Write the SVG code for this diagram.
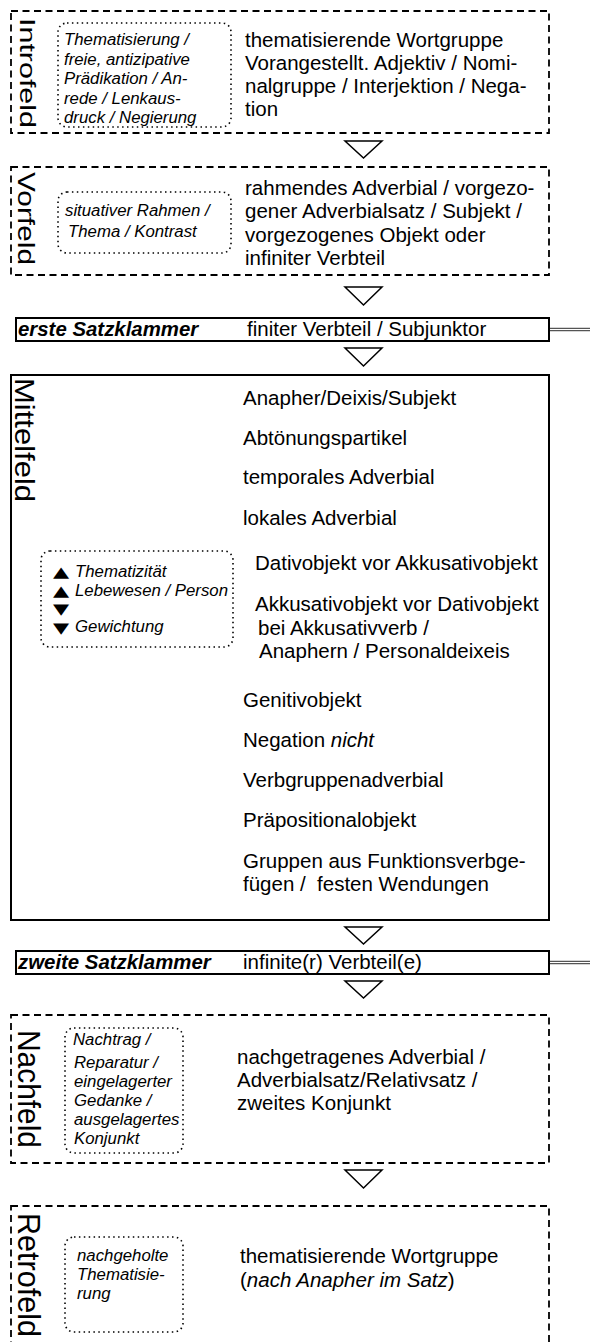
<svg xmlns="http://www.w3.org/2000/svg" width="590" height="1342" viewBox="0 0 590 1342">
<style>
text{font-family:"Liberation Sans",Arial,Helvetica,sans-serif;fill:#000}
.t{font-size:20.5px}
.i{font-size:16.8px;font-style:italic}
.bi{font-size:20.4px;font-style:italic;font-weight:bold}
.sym{font-family:"DejaVu Sans",sans-serif;font-size:15px}
.dash{fill:none;stroke:#000;stroke-width:1.8;stroke-dasharray:7 4.5}
.dot{fill:none;stroke:#000;stroke-width:1.6;stroke-dasharray:1.5 3.4}
.solid{fill:#fff;stroke:#000;stroke-width:2}
.tri{fill:#fff;stroke:#000;stroke-width:1.5}
.dl{stroke:#555;stroke-width:3.6}
.dlw{stroke:#fff;stroke-width:1.2}
</style>
<rect width="590" height="1342" fill="#fff"/>

<g id="connectors">
<polygon class="tri" points="345,141 382,141 363.5,158"/>
<polygon class="tri" points="345,287 382,287 363.5,305"/>
<polygon class="tri" points="345,348 382,348 363.5,366"/>
<polygon class="tri" points="345,927 382,927 363.5,944"/>
<polygon class="tri" points="345,981 382,981 363.5,998"/>
<polygon class="tri" points="345,1170 382,1170 363.5,1188"/>
<line class="dl" x1="549" y1="329.5" x2="590" y2="329.5"/>
<line class="dlw" x1="550" y1="329.5" x2="590" y2="329.5"/>
<line class="dl" x1="549" y1="962.5" x2="590" y2="962.5"/>
<line class="dlw" x1="550" y1="962.5" x2="590" y2="962.5"/>
</g>

<g id="introfeld">
<rect class="dash" x="11" y="11" width="538" height="122"/>
<text transform="translate(20,18) rotate(90)" style="font-size:21.5px" textLength="110" lengthAdjust="spacingAndGlyphs">Introfeld</text>
<rect class="dot" x="58" y="23" width="173" height="104" rx="9"/>
<text class="i" x="64" y="45">Thematisierung /</text>
<text class="i" x="64" y="64.5">freie, antizipative</text>
<text class="i" x="64" y="84">Prädikation / An-</text>
<text class="i" x="64" y="103.5">rede / Lenkaus-</text>
<text class="i" x="64" y="123">druck / Negierung</text>
<text class="t" x="245" y="47">thematisierende Wortgruppe</text>
<text class="t" x="245" y="70">Vorangestellt. Adjektiv / Nomi-</text>
<text class="t" x="245" y="93">nalgruppe / Interjektion / Nega-</text>
<text class="t" x="245" y="116">tion</text>
</g>

<g id="vorfeld">
<rect class="dash" x="11" y="167" width="538" height="108"/>
<text transform="translate(18,172) rotate(90)" style="font-size:24px" textLength="93" lengthAdjust="spacingAndGlyphs">Vorfeld</text>
<rect class="dot" x="58" y="192" width="173" height="61" rx="9"/>
<text class="i" x="65" y="216">situativer Rahmen /</text>
<text class="i" x="68" y="237">Thema / Kontrast</text>
<text class="t" x="245" y="195">rahmendes Adverbial / vorgezo-</text>
<text class="t" x="245" y="218">gener Adverbialsatz / Subjekt /</text>
<text class="t" x="245" y="241.5">vorgezogenes Objekt oder</text>
<text class="t" x="245" y="265">infiniter Verbteil</text>
</g>

<g id="erste-satzklammer">
<rect class="solid" x="16" y="318" width="533" height="23"/>
<text class="bi" x="18" y="336">erste Satzklammer</text>
<text class="t" x="247" y="336">finiter Verbteil / Subjunktor</text>
</g>

<g id="mittelfeld">
<rect class="solid" x="11" y="375" width="538" height="545"/>
<text transform="translate(15,378) rotate(90)" style="font-size:28px" textLength="124" lengthAdjust="spacingAndGlyphs">Mittelfeld</text>
<rect class="dot" x="41" y="551" width="192" height="96" rx="9"/>
<text class="sym" transform="translate(53,577) scale(1.4,1)">▲</text>
<text class="sym" transform="translate(53,596) scale(1.4,1)">▲</text>
<text class="sym" transform="translate(53,614) scale(1.4,1)">▼</text>
<text class="sym" transform="translate(53,633) scale(1.4,1)">▼</text>
<text class="i" x="75" y="577">Thematizität</text>
<text class="i" x="75" y="596">Lebewesen / Person</text>
<text class="i" x="75" y="632">Gewichtung</text>
<text class="t" x="243" y="405">Anapher/Deixis/Subjekt</text>
<text class="t" x="243" y="445">Abtönungspartikel</text>
<text class="t" x="243" y="484">temporales Adverbial</text>
<text class="t" x="243" y="525">lokales Adverbial</text>
<text class="t" x="255" y="570">Dativobjekt vor Akkusativobjekt</text>
<text class="t" x="255" y="611">Akkusativobjekt vor Dativobjekt</text>
<text class="t" x="258" y="634.5">bei Akkusativverb /</text>
<text class="t" x="259" y="658">Anaphern / Personaldeixeis</text>
<text class="t" x="243" y="707">Genitivobjekt</text>
<text class="t" x="243" y="747">Negation <tspan font-style="italic">nicht</tspan></text>
<text class="t" x="243" y="787">Verbgruppenadverbial</text>
<text class="t" x="243" y="827">Präpositionalobjekt</text>
<text class="t" x="243" y="868">Gruppen aus Funktionsverbge-</text>
<text class="t" x="243" y="891" xml:space="preserve">fügen /  festen Wendungen</text>
</g>

<g id="zweite-satzklammer">
<rect class="solid" x="16" y="951" width="533" height="23"/>
<text class="bi" x="18" y="969">zweite Satzklammer</text>
<text class="t" x="243" y="969">infinite(r) Verbteil(e)</text>
</g>

<g id="nachfeld">
<rect class="dash" x="11" y="1015" width="538" height="148"/>
<text transform="translate(18,1030) rotate(90)" style="font-size:31px" textLength="118" lengthAdjust="spacingAndGlyphs">Nachfeld</text>
<rect class="dot" x="65" y="1028" width="118" height="125" rx="9"/>
<text class="i" x="73" y="1045">Nachtrag /</text>
<text class="i" x="74" y="1068">Reparatur /</text>
<text class="i" x="74" y="1087">eingelagerter</text>
<text class="i" x="74" y="1106">Gedanke /</text>
<text class="i" x="74" y="1125">ausgelagertes</text>
<text class="i" x="74" y="1144">Konjunkt</text>
<text class="t" x="237" y="1064">nachgetragenes Adverbial /</text>
<text class="t" x="237" y="1087">Adverbialsatz/Relativsatz /</text>
<text class="t" x="237" y="1110">zweites Konjunkt</text>
</g>

<g id="retrofeld">
<rect class="dash" x="11" y="1206" width="538" height="160"/>
<text transform="translate(18,1213) rotate(90)" style="font-size:31px" textLength="124" lengthAdjust="spacingAndGlyphs">Retrofeld</text>
<rect class="dot" x="65" y="1237" width="118" height="95" rx="9"/>
<text class="i" x="77" y="1261">nachgeholte</text>
<text class="i" x="77" y="1280">Thematisie-</text>
<text class="i" x="77" y="1299">rung</text>
<text class="t" x="240" y="1263">thematisierende Wortgruppe</text>
<text class="t" x="240" y="1287">(<tspan font-style="italic">nach Anapher im Satz</tspan>)</text>
</g>
</svg>
